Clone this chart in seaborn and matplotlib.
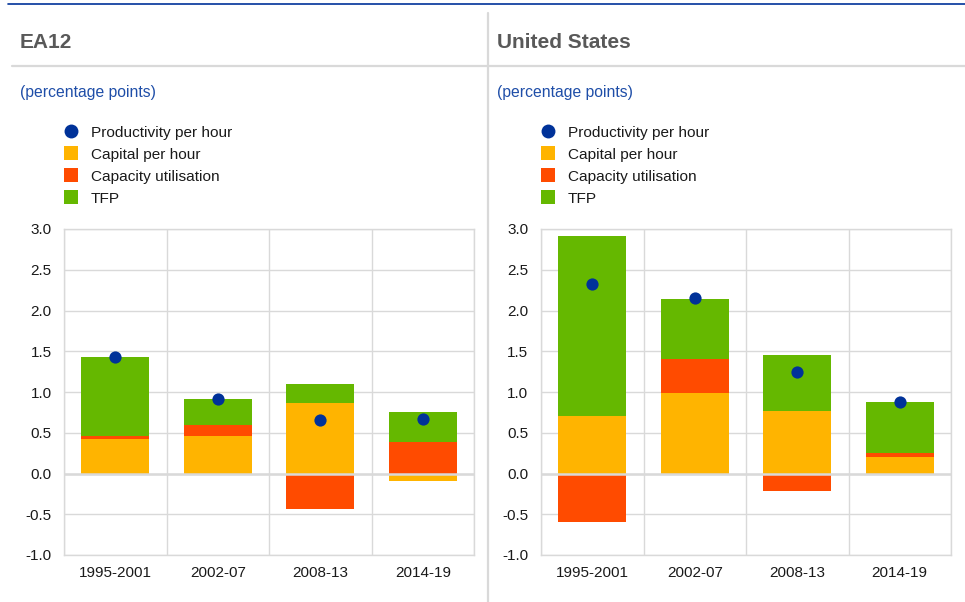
import numpy as np
import pandas as pd
import matplotlib
matplotlib.use("Agg")
import matplotlib.pyplot as plt
from matplotlib.lines import Line2D
from matplotlib.patches import Rectangle
import seaborn as sns

# ---------------- data ----------------
categories = ["1995-2001", "2002-07", "2008-13", "2014-19"]
series_names = ["Productivity per hour", "Capital per hour", "Capacity utilisation", "TFP"]

ea_productivity = [1.43, 0.91, 0.66, 0.67]
ea_capital = [0.42, 0.46, 0.87, -0.09]
ea_capacity = [0.035, 0.13, -0.44, 0.39]
ea_tfp = [0.975, 0.32, 0.23, 0.37]

us_productivity = [2.32, 2.15, 1.25, 0.88]
us_capital = [0.71, 0.99, 0.77, 0.20]
us_capacity = [-0.60, 0.41, -0.21, 0.055]
us_tfp = [2.21, 0.745, 0.69, 0.625]

panel_titles = ["EA12", "United States"]
unit_label = "(percentage points)"
y_ticks = [-1.0, -0.5, 0.0, 0.5, 1.0, 1.5, 2.0, 2.5, 3.0]

# ---------------- style ----------------
C_PROD = "#003299"
C_CAP = "#FFB400"
C_UTIL = "#FF4B00"
C_TFP = "#65B800"
C_GRID = "#d9d9d9"
C_TITLE = "#595959"
C_UNIT = "#1f4ea8"

sns.set_style("white")
plt.rcParams["font.family"] = ["Liberation Sans", "DejaVu Sans"]

W, H = 965, 602
fig = plt.figure(figsize=(W / 100, H / 100), dpi=100)


def fx(px):
    return px / W


def fy(py):
    return 1 - py / H


def draw_panel(ax, prod, capital, capacity, tfp):
    comps = [(capital, C_CAP), (capacity, C_UTIL), (tfp, C_TFP)]
    pos = np.zeros(len(categories))
    neg = np.zeros(len(categories))
    for vals, col in comps:
        vals = np.asarray(vals, dtype=float)
        bottoms = np.where(vals >= 0, pos, neg)
        df = pd.DataFrame({"cat": categories, "val": vals})
        sns.barplot(data=df, x="cat", y="val", order=categories, bottom=bottoms,
                    color=col, saturation=1, width=0.667, errorbar=None,
                    linewidth=0, ax=ax, zorder=3)
        pos = pos + np.where(vals >= 0, vals, 0)
        neg = neg + np.where(vals < 0, vals, 0)
    dfp = pd.DataFrame({"cat": categories, "val": prod})
    sns.stripplot(data=dfp, x="cat", y="val", order=categories, jitter=False,
                  color=C_PROD, size=8.8, linewidth=0, ax=ax, zorder=6)

    ax.set_xlim(-0.5, 3.5)
    ax.set_ylim(-1.0, 3.0)
    ax.set_yticks(y_ticks)
    ax.set_yticklabels([f"{t:.1f}" for t in y_ticks])
    ax.set_xticks(range(len(categories)))
    ax.set_xticklabels(categories)
    ax.set_xticks(np.arange(-0.5, 3.6, 1.0), minor=True)
    ax.set_xlabel("")
    ax.set_ylabel("")
    ax.grid(False)
    ax.grid(axis="y", which="major", color=C_GRID, lw=1.0, zorder=0)
    ax.grid(axis="x", which="minor", color=C_GRID, lw=1.0, zorder=0)
    ax.axhline(0, color=C_GRID, lw=1.8, zorder=4)
    for s in ax.spines.values():
        s.set_color(C_GRID)
        s.set_linewidth(1.0)
    ax.tick_params(axis="both", which="both", length=0, labelsize=11, colors="#1a1a1a")
    ax.tick_params(axis="y", pad=9)
    ax.tick_params(axis="x", pad=8)
    ax.set_axisbelow(True)


ax_l = fig.add_axes([fx(64), fy(555), 410 / W, 326 / H])
ax_r = fig.add_axes([fx(541), fy(555), 410 / W, 326 / H])
draw_panel(ax_l, ea_productivity, ea_capital, ea_capacity, ea_tfp)
draw_panel(ax_r, us_productivity, us_capital, us_capacity, us_tfp)

# ---------------- frame lines ----------------
fig.add_artist(Line2D([fx(8), fx(965)], [fy(4), fy(4)], color=C_PROD, lw=1.2))
fig.add_artist(Line2D([fx(12), fx(965)], [fy(66), fy(66)], color=C_GRID, lw=1.6))
fig.add_artist(Line2D([fx(487.5), fx(487.5)], [fy(13), fy(602)], color=C_GRID, lw=1.6))

# ---------------- titles / units / legends ----------------
legend_colors = [C_PROD, C_CAP, C_UTIL, C_TFP]
row_y = [130.7, 152.7, 175.3, 197.3]
for x0, title in zip([20, 497], panel_titles):
    fig.text(fx(x0), fy(48.3), title, fontsize=15, fontweight="bold",
             color=C_TITLE, va="baseline", ha="left")
    fig.text(fx(x0), fy(97), unit_label, fontsize=11.3, color=C_UNIT,
             va="baseline", ha="left")
    mx = x0 + 51
    for i, (name, col) in enumerate(zip(series_names, legend_colors)):
        yy = row_y[i]
        if i == 0:
            fig.add_artist(Line2D([fx(mx)], [fy(yy)], marker="o", markersize=10,
                                  color=col, markeredgewidth=0, linestyle="none"))
        else:
            fig.add_artist(Rectangle((fx(mx - 7), fy(yy + 7)), 14 / W, 14 / H,
                                     facecolor=col, edgecolor="none",
                                     transform=fig.transFigure))
        fig.text(fx(x0 + 71), fy(yy + 6), name, fontsize=11.1, color="#1a1a1a",
                 va="baseline", ha="left")

fig.savefig("out.png", dpi=100)
